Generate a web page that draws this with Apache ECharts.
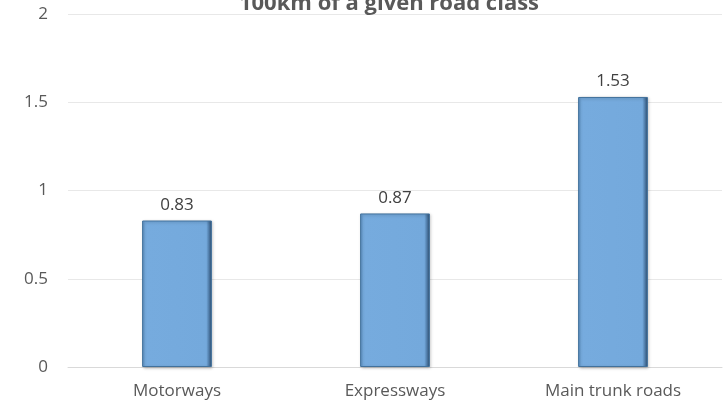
<!DOCTYPE html>
<html lang="en">
<head>
    <meta charset="UTF-8">
    <title>Road class chart</title>
    <script src="https://cdn.jsdelivr.net/npm/echarts@6/dist/echarts.min.js"></script>
    <style>
        html, body { margin: 0; height: 100%; background: #fff; }
        #main { width: 725px; height: 404px; }
    </style>
</head>
<body>
<div id="main"></div>
<script>
    // data
    var categories = ['Motorways', 'Expressways', 'Main trunk roads'];
    var values = [0.83, 0.87, 1.53];
    var titleText = '100km of a given road class';

    var myChart = echarts.init(document.getElementById('main'));

    // bevelled look of the bars
    var barFill = new echarts.graphic.LinearGradient(0, 0, 1, 0, [
        { offset: 0, color: '#5f93c6' },
        { offset: 0.05, color: '#76abde' },
        { offset: 0.92, color: '#74a9dc' },
        { offset: 0.96, color: '#4d79a5' },
        { offset: 1, color: '#2e4d6d' }
    ]);

    var option = {
        animation: false,
        title: {
            text: titleText,
            left: 384,
            top: -12,
            textAlign: 'center',
            textStyle: {
                fontFamily: 'Open Sans',
                fontSize: 22,
                fontWeight: 'bold',
                color: '#595959'
            }
        },
        grid: { left: 68, right: 3, top: 14, bottom: 37 },
        xAxis: {
            type: 'category',
            data: categories,
            axisLine: { show: true, lineStyle: { color: '#d9d9d9' } },
            axisTick: { show: false },
            axisLabel: {
                margin: 16,
                fontFamily: 'Open Sans',
                fontSize: 17,
                color: '#595959'
            }
        },
        yAxis: {
            type: 'value',
            min: 0,
            max: 2,
            interval: 0.5,
            axisLine: { show: false },
            axisTick: { show: false },
            splitLine: { lineStyle: { color: '#e8e8e8' } },
            axisLabel: {
                margin: 20,
                fontFamily: 'Open Sans',
                fontSize: 17,
                color: '#595959'
            }
        },
        series: [{
            type: 'bar',
            data: values,
            barWidth: '32%',
            itemStyle: {
                color: barFill,
                borderColor: '#41719c',
                borderWidth: 1,
                shadowColor: 'rgba(0,0,0,0.25)',
                shadowBlur: 3,
                shadowOffsetX: 1,
                shadowOffsetY: 1
            },
            label: {
                show: true,
                position: 'top',
                distance: 7,
                fontFamily: 'Open Sans',
                fontSize: 17,
                color: '#404040'
            }
        }]
    };

    myChart.setOption(option);
</script>
</body>
</html>
